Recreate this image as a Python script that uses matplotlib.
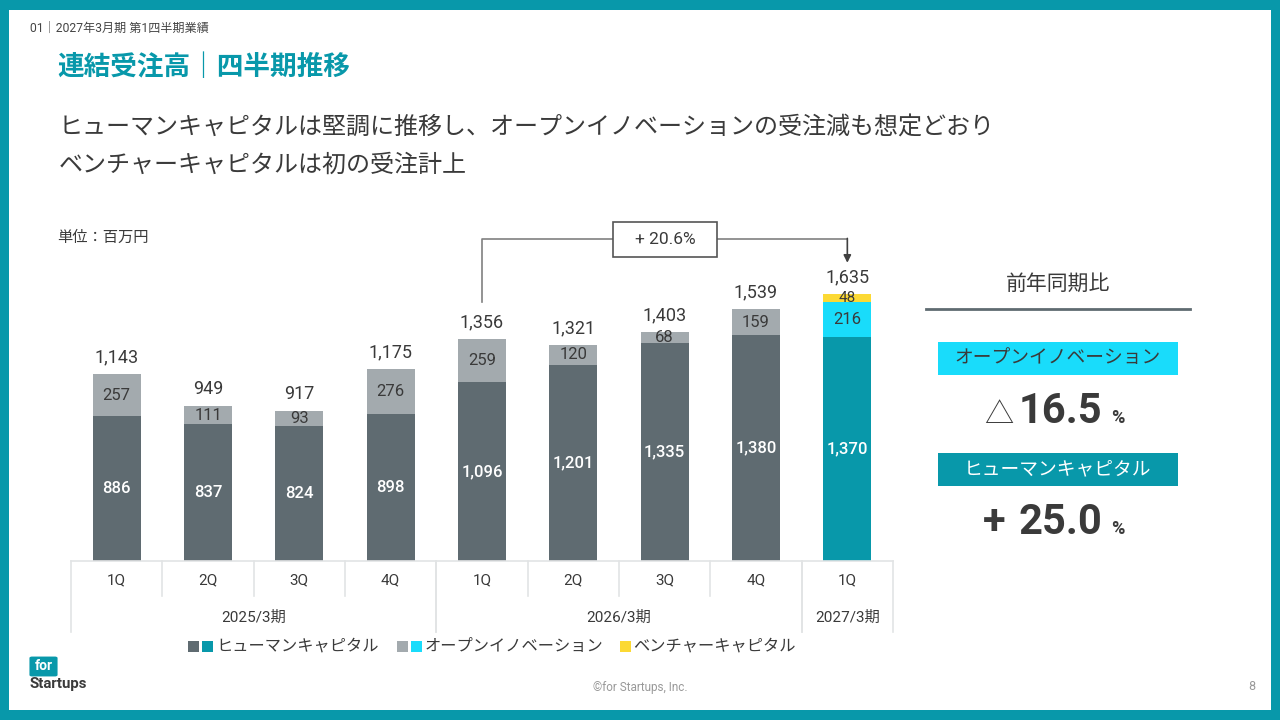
import matplotlib.pyplot as plt
from matplotlib.patches import Rectangle, FancyBboxPatch

plt.rcParams['font.family'] = ['Roboto', 'Noto Sans CJK JP', 'DejaVu Sans']

# data (百万円)
quarters = ['1Q', '2Q', '3Q', '4Q', '1Q', '2Q', '3Q', '4Q', '1Q']
years = ['2025/3期', '2026/3期', '2027/3期']
year_spans = [(0, 3), (4, 7), (8, 8)]
human_capital = [886, 837, 824, 898, 1096, 1201, 1335, 1380, 1370]
open_innovation = [257, 111, 93, 276, 259, 120, 68, 159, 216]
venture_capital = [0, 0, 0, 0, 0, 0, 0, 0, 48]
totals = [1143, 949, 917, 1175, 1356, 1321, 1403, 1539, 1635]
growth_label = '+ 20.6%'
yoy_oi = '16.5'
yoy_hc = '25.0'

TEAL = '#0898aa'
DARK = '#5f6b71'
LIGHT = '#a3aaae'
CYAN = '#19dcfb'
YELLOW = '#fcd934'
TXT = '#3a3a3a'

hc_colors = [DARK] * 8 + [TEAL]
oi_colors = [LIGHT] * 8 + [CYAN]

W, H = 1280, 720
fx = lambda x: x / W
fy = lambda y: 1 - y / H

fig = plt.figure(figsize=(12.8, 7.2), dpi=100)
fig.patch.set_facecolor(TEAL)
fig.patches.append(Rectangle((fx(9), fy(710)), fx(1271 - 9), (710 - 10) / H,
                             transform=fig.transFigure, facecolor='white', edgecolor='none', zorder=-1))

# header texts
fig.text(fx(30), fy(28), '01｜2027年3月期 第1四半期業績', fontsize=8.7, color='#444', va='center')
fig.text(fx(57), fy(67), '連結受注高｜四半期推移', fontsize=19.2, color=TEAL, weight='bold', va='center')
fig.text(fx(59), fy(128), 'ヒューマンキャピタルは堅調に推移し、オープンイノベーションの受注減も想定どおり',
         fontsize=17.3, color=TXT, va='center')
fig.text(fx(59), fy(165), 'ベンチャーキャピタルは初の受注計上', fontsize=17.3, color=TXT, va='center')
fig.text(fx(57), fy(238), '単位：百万円', fontsize=11, color=TXT, va='center')

# chart axes
x0, x1, ybase, ytop = 71, 893, 561, 220
ax = fig.add_axes([fx(x0), fy(ybase), fx(x1 - x0), (ybase - ytop) / H], zorder=1)
ax.set_xlim(-0.5, len(quarters) - 0.5)
ymax = (ybase - ytop) / 0.1635
ax.set_ylim(0, ymax)
ax.axis('off')

xs = list(range(len(quarters)))
bw = 0.525
ax.bar(xs, human_capital, bw, color=hc_colors)
ax.bar(xs, open_innovation, bw, bottom=human_capital, color=oi_colors)
bottoms_vc = [h + o for h, o in zip(human_capital, open_innovation)]
ax.bar(xs, venture_capital, bw, bottom=bottoms_vc, color=YELLOW)

for i in xs:
    ax.text(i, human_capital[i] / 2, f'{human_capital[i]:,}', ha='center', va='center',
            color='white', fontsize=12, weight='medium')
    ax.text(i, human_capital[i] + open_innovation[i] / 2, f'{open_innovation[i]:,}',
            ha='center', va='center', color=TXT, fontsize=12)
    if venture_capital[i]:
        ax.text(i, bottoms_vc[i] + venture_capital[i] / 2, f'{venture_capital[i]:,}',
                ha='center', va='center', color=TXT, fontsize=11)
    top = bottoms_vc[i] + venture_capital[i]
    ax.annotate(f'{totals[i]:,}', (i, top), xytext=(0, 12), textcoords='offset points',
                ha='center', va='center', fontsize=13, color=TXT)

# growth bracket from 1Q 2026/3 to 1Q 2027/3
i0, i1 = 4, 8
top0 = human_capital[i0] + open_innovation[i0] + venture_capital[i0]
top1 = bottoms_vc[i1] + venture_capital[i1]
ybr = top1 + 335
ax.plot([i0, i0, i1], [top0 + 228, ybr, ybr], color='#808080', lw=1.2, clip_on=False)
ax.annotate('', xy=(i1, top1 + 190), xytext=(i1, ybr + 4),
            arrowprops=dict(arrowstyle='-|>', color='#404040', lw=1.2, mutation_scale=11,
                            shrinkA=0, shrinkB=0))
fig.patches.append(Rectangle((fx(613), fy(257)), fx(104), 35 / H, transform=fig.transFigure,
                             facecolor='white', edgecolor='#555', lw=1.2, zorder=5))
fig.text(fx(665), fy(240), growth_label, fontsize=12.5, color=TXT, ha='center', va='center', zorder=6)

# category table below the bars
grid = '#e2e4e5'
lines = [((x0, x1), (ybase, ybase))]
for i in range(1, len(quarters)):
    xb = x0 + i * (x1 - x0) / len(quarters)
    lines.append(((xb, xb), (ybase, 596)))
for s, e in year_spans:
    for k in (s, e + 1):
        xb = x0 + k * (x1 - x0) / len(quarters)
        lines.append(((xb, xb), (ybase, 632)))
for (xa, xb), (ya, yb) in lines:
    fig.add_artist(plt.Line2D([fx(xa), fx(xb)], [fy(ya), fy(yb)], color=grid, lw=1.2,
                              transform=fig.transFigure))
for i, q in enumerate(quarters):
    fig.text(fx(x0 + (i + 0.5) * (x1 - x0) / len(quarters)), fy(580), q, fontsize=11,
             color=TXT, ha='center', va='center')
for (s, e), yl in zip(year_spans, years):
    fig.text(fx(x0 + (s + e + 1) / 2 * (x1 - x0) / len(quarters)), fy(618), yl, fontsize=11,
             color=TXT, ha='center', va='center')

# legend
def sq(x, c):
    fig.patches.append(Rectangle((fx(x), fy(652)), fx(11), 11 / H, transform=fig.transFigure,
                                 facecolor=c, edgecolor='none'))
sq(188, DARK); sq(202, TEAL)
fig.text(fx(216), fy(646), 'ヒューマンキャピタル', fontsize=11.7, color=TXT, va='center')
sq(397, LIGHT); sq(411, CYAN)
fig.text(fx(425), fy(646), 'オープンイノベーション', fontsize=11.7, color=TXT, va='center')
sq(620, YELLOW)
fig.text(fx(633), fy(646), 'ベンチャーキャピタル', fontsize=11.7, color=TXT, va='center')

# right panel: year-on-year
fig.text(fx(1058), fy(284), '前年同期比', fontsize=15, color=TXT, ha='center', va='center')
fig.add_artist(plt.Line2D([fx(926), fx(1190)], [fy(309), fy(309)], color='#5f6b71', lw=2,
                          transform=fig.transFigure))
fig.patches.append(Rectangle((fx(938), fy(375)), fx(240), 33 / H, transform=fig.transFigure,
                             facecolor=CYAN, edgecolor='none'))
fig.text(fx(1058), fy(358), 'オープンイノベーション', fontsize=13.5, color=TXT, ha='center', va='center')
fig.text(fx(984), fy(423), '△', fontsize=21, color=TXT, va='baseline', weight='light')
fig.text(fx(1019), fy(423), yoy_oi, fontsize=30, color=TXT, va='baseline', weight='bold')
fig.text(fx(1111), fy(423), '%', fontsize=13, color=TXT, va='baseline', weight='bold')
fig.patches.append(Rectangle((fx(938), fy(486)), fx(240), 33 / H, transform=fig.transFigure,
                             facecolor=TEAL, edgecolor='none'))
fig.text(fx(1058), fy(469), 'ヒューマンキャピタル', fontsize=13.5, color='white', ha='center', va='center')
fig.text(fx(983), fy(534), '+', fontsize=30, color=TXT, va='baseline', weight='bold')
fig.text(fx(1019), fy(534), yoy_hc, fontsize=30, color=TXT, va='baseline', weight='bold')
fig.text(fx(1111), fy(534), '%', fontsize=13, color=TXT, va='baseline', weight='bold')

# footer
fig.patches.append(FancyBboxPatch((fx(32), fy(675)), fx(23), 17 / H, transform=fig.transFigure,
                                  boxstyle='round,pad=0.002', facecolor=TEAL, edgecolor='none'))
fig.text(fx(43.5), fy(666), 'for', fontsize=10, color='white', weight='bold', ha='center', va='center')
fig.text(fx(30), fy(684), 'Startups', fontsize=10.8, color=TXT, weight='bold', va='center')
fig.text(fx(640), fy(687), '©for Startups, Inc.', fontsize=8.5, color='#999', ha='center', va='center')
fig.text(fx(1252), fy(687), '8', fontsize=9, color='#999', ha='center', va='center')

fig.savefig('out.png', dpi=100, facecolor=fig.get_facecolor())
